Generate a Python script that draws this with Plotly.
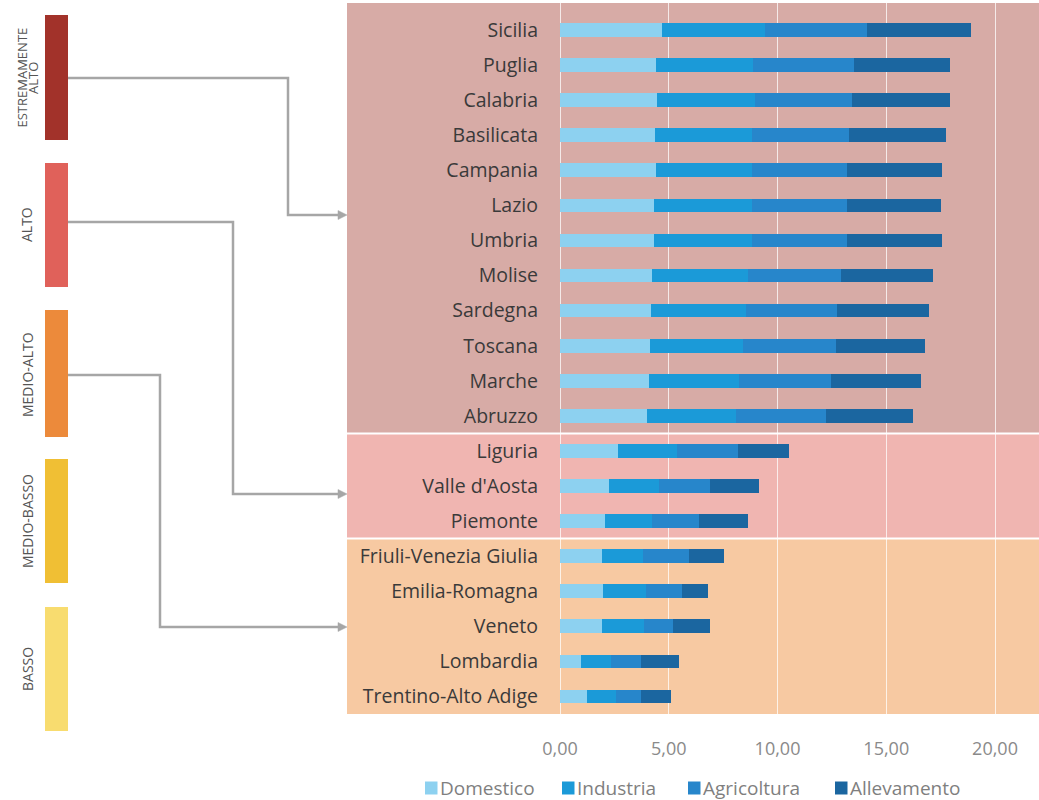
import plotly.graph_objects as go

regions = ["Sicilia", "Puglia", "Calabria", "Basilicata", "Campania", "Lazio", "Umbria",
           "Molise", "Sardegna", "Toscana", "Marche", "Abruzzo", "Liguria", "Valle d'Aosta",
           "Piemonte", "Friuli-Venezia Giulia", "Emilia-Romagna", "Veneto", "Lombardia",
           "Trentino-Alto Adige"]

domestico = [4.67, 4.41, 4.44, 4.37, 4.41, 4.34, 4.34, 4.25, 4.18, 4.14, 4.11, 4.01,
             2.68, 2.25, 2.08, 1.92, 1.99, 1.95, 0.97, 1.26]
industria = [4.76, 4.48, 4.53, 4.44, 4.40, 4.47, 4.47, 4.38, 4.37, 4.29, 4.12, 4.08,
             2.68, 2.32, 2.13, 1.88, 1.95, 1.93, 1.37, 1.31]
agricoltura = [4.70, 4.64, 4.47, 4.48, 4.37, 4.37, 4.37, 4.29, 4.20, 4.26, 4.21, 4.14,
               2.84, 2.33, 2.18, 2.15, 1.65, 1.33, 1.37, 1.14]
allevamento = [4.75, 4.40, 4.49, 4.46, 4.37, 4.32, 4.37, 4.24, 4.23, 4.11, 4.14, 4.02,
               2.34, 2.26, 2.27, 1.59, 1.20, 1.69, 1.78, 1.38]

series_names = ["Domestico", "Industria", "Agricoltura", "Allevamento"]
series_colors = ["#8dd1f0", "#1b9ad8", "#2786cb", "#1b66a0"]

tick_vals = [0, 5, 10, 15, 20]
tick_text = ["0,00", "5,00", "10,00", "15,00", "20,00"]

levels = ["ESTREMAMENTE ALTO", "ALTO", "MEDIO-ALTO", "MEDIO-BASSO", "BASSO"]
level_colors = ["#a2322a", "#e0615a", "#ec8a3b", "#f0bf34", "#f8dc6f"]

# groups of regions (index ranges, top to bottom) and band colours
groups = [(0, 11, "#d7aba6"), (12, 14, "#f0b5b1"), (15, 19, "#f7c9a2")]

W, H = 1039, 800
ML, MR, MT, MB = 560, 0, 3, 86
PW, PH = W - ML - MR, H - MT - MB

order = list(reversed(regions))  # bottom to top


def yidx(name):
    return order.index(name)


def px(xp):
    return (xp - ML) / PW


def py(yp):
    return (H - MB - yp) / PH


fig = go.Figure()
for name, vals, col in zip(series_names, [domestico, industria, agricoltura, allevamento], series_colors):
    fig.add_trace(go.Bar(
        y=regions, x=vals, name=name, orientation="h",
        marker=dict(color=col, line=dict(width=0)),
    ))

shapes = []
# background bands
for i0, i1, col in groups:
    top = yidx(regions[i0]) + 0.5
    bot = yidx(regions[i1]) - 0.5
    if i0 == 0:
        top = 19.77
    shapes.append(dict(type="rect", xref="paper", yref="y", x0=px(347), x1=1.0,
                       y0=bot, y1=top, fillcolor=col, line=dict(width=0), layer="below"))
# white separators
for i0, i1, col in groups[:-1]:
    yy = yidx(regions[i1]) - 0.5
    shapes.append(dict(type="line", xref="paper", yref="y", x0=px(347), x1=1.0,
                       y0=yy, y1=yy, line=dict(color="white", width=2), layer="above"))

# left level rectangles
rect_y = [(15, 140), (163, 287), (310, 437), (459, 583), (607, 731)]
for (y0, y1), col in zip(rect_y, level_colors):
    shapes.append(dict(type="rect", xref="paper", yref="paper", x0=px(45), x1=px(68),
                       y0=py(y1), y1=py(y0), fillcolor=col, line=dict(width=0)))

# connectors
conn = [(78, 288, 215), (222, 233, 494), (375, 160, 627)]
gray = "#a6a6a6"
for ys, xm, ye in conn:
    path = f"M {px(68)},{py(ys)} L {px(xm)},{py(ys)} L {px(xm)},{py(ye)} L {px(340)},{py(ye)}"
    shapes.append(dict(type="path", xref="paper", yref="paper", path=path,
                       line=dict(color=gray, width=2.5)))
    tri = f"M {px(338)},{py(ye - 4.5)} L {px(347)},{py(ye)} L {px(338)},{py(ye + 4.5)} Z"
    shapes.append(dict(type="path", xref="paper", yref="paper", path=tri,
                       fillcolor=gray, line=dict(color=gray, width=0.5)))

annotations = []
# two-line label drawn as two rotated lines
first_words = levels[0].split(" ")
for xx, word in zip([21.5, 33], first_words):
    annotations.append(dict(xref="paper", yref="paper", x=px(xx), y=py(78), text=word,
                            textangle=-90, showarrow=False, xanchor="center", yanchor="middle",
                            font=dict(family="Open Sans", size=13, color="#555555")))
label_pos = [(27, 225), (27, 375), (27, 521), (27, 669)]
for (xx, yy), txt in zip(label_pos, levels[1:]):
    annotations.append(dict(xref="paper", yref="paper", x=px(xx), y=py(yy), text=txt,
                            textangle=-90, showarrow=False, xanchor="center", yanchor="middle",
                            font=dict(family="Open Sans", size=14, color="#555555")))

# legend (swatch + label)
leg_x = [425, 562, 688, 835]
leg_y = 788
for xx, name, col in zip(leg_x, series_names, series_colors):
    shapes.append(dict(type="rect", xref="paper", yref="paper", x0=px(xx), x1=px(xx + 12.5),
                       y0=py(leg_y + 6.5), y1=py(leg_y - 6.5), fillcolor=col, line=dict(width=0)))
    annotations.append(dict(xref="paper", yref="paper", x=px(xx + 13), y=py(leg_y), text=name,
                            showarrow=False, xanchor="left", yanchor="middle",
                            font=dict(family="Open Sans", size=19, color="#7f7f7f")))

fig.update_layout(
    width=W, height=H,
    margin=dict(l=ML, r=MR, t=MT, b=MB, autoexpand=False),
    barmode="stack", bargap=0.61,
    paper_bgcolor="white", plot_bgcolor="rgba(0,0,0,0)",
    font=dict(family="Open Sans", color="#404040"),
    shapes=shapes, annotations=annotations,
    showlegend=False,
    xaxis=dict(range=[0, PW / 21.75], tickvals=tick_vals, ticktext=tick_text,
               showgrid=True, gridcolor="rgba(255,255,255,0.75)", gridwidth=1.2,
               zeroline=True, zerolinecolor="rgba(255,255,255,0.75)", zerolinewidth=1.2,
               showline=False, ticks="", ticklabelstandoff=22,
               tickfont=dict(size=18, color="#8a8a8a"), fixedrange=True, automargin=False),
    yaxis=dict(categoryorder="array", categoryarray=order, range=[-0.5, 19.77],
               showgrid=False, zeroline=False, showline=False, ticks="",
               ticklabelstandoff=21, tickfont=dict(size=19.5, color="#3a3a3a"),
               automargin=False, fixedrange=True),
)

fig.write_html("out.html", config={"displayModeBar": False},
               post_script="document.body.style.margin='0';document.body.style.overflow='hidden';")
